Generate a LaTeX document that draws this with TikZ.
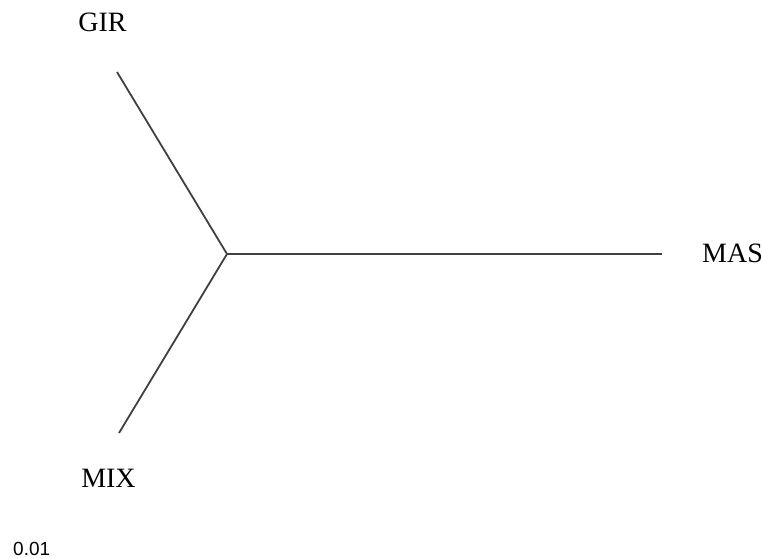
\documentclass[tikz,border=0pt]{standalone}
\usepackage{fontspec}
\setmainfont{Liberation Serif}
\newfontfamily\scalefont{Liberation Sans}
\begin{document}
\begin{tikzpicture}[x=1pt,y=1pt,
  branch/.style={draw=black!75,line width=1.8pt},
  taxon/.style={inner sep=0pt,font=\fontsize{28}{30}\selectfont},
  scaletxt/.style={inner sep=0pt,font=\scalefont\fontsize{19}{21}\selectfont}]
\useasboundingbox (0,0) rectangle (762,558);
\coordinate (c) at (227,304);
\coordinate (g) at (117,486);
\coordinate (m) at (119,125);
\coordinate (s) at (662,304);
\draw[branch] (g) -- (c) -- (m);
\draw[branch] (c) -- (s);
\node[taxon,anchor=base] (gir) at (102.5,526) {GIR};
\node[taxon,anchor=base] (mix) at (108.5,71) {MIX};
\node[taxon,anchor=base west] (mas) at (702,296) {MAS};
\node[scaletxt,anchor=base west] (sc) at (13,3) {0.01};
\end{tikzpicture}
\end{document}
